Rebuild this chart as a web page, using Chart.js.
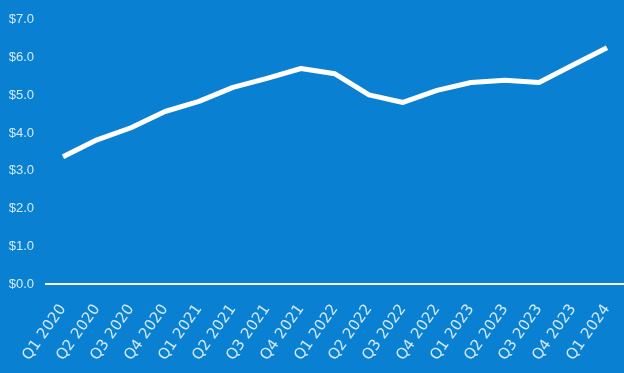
<!DOCTYPE html>
<html>
<head>
<meta charset="utf-8">
<script src="https://cdn.jsdelivr.net/npm/chart.js@4"></script>
<style>
  html, body { margin: 0; padding: 0; background: #0a80d3; }
  #wrap { width: 624px; height: 373px; position: relative; }
</style>
</head>
<body>
<div id="wrap"><canvas id="priceChart"></canvas></div>
<script>
// quarters on the x axis
const quarters = ['Q1 2020', 'Q2 2020', 'Q3 2020', 'Q4 2020', 'Q1 2021', 'Q2 2021', 'Q3 2021', 'Q4 2021',
  'Q1 2022', 'Q2 2022', 'Q3 2022', 'Q4 2022', 'Q1 2023', 'Q2 2023', 'Q3 2023', 'Q4 2023', 'Q1 2024'];
// values
const values = [3.37, 3.82, 4.14, 4.57, 4.84, 5.21, 5.45, 5.71, 5.57, 5.01, 4.81, 5.13, 5.34, 5.40, 5.34, 5.80, 6.26];
const yTicks = [0, 1, 2, 3, 4, 5, 6, 7];

const labelColor = '#d4eafa';

const ctx = document.getElementById('priceChart').getContext('2d');
const priceChart = new Chart(ctx, {
  type: 'line',
  data: {
    labels: quarters,
    datasets: [{
      data: values,
      borderColor: '#ffffff',
      borderWidth: 5,
      pointRadius: 0,
      tension: 0,
      borderCapStyle: 'butt',
      borderJoinStyle: 'round'
    }]
  },
  options: {
    responsive: true,
    maintainAspectRatio: false,
    animation: false,
    layout: { padding: { top: 17, right: 0, left: 0, bottom: 0 } },
    plugins: {
      legend: { display: false },
      tooltip: { enabled: false }
    },
    scales: {
      x: {
        offset: true,
        grid: { display: false, drawTicks: false },
        border: { display: true, color: '#ffffff', width: 2 },
        ticks: {
          color: labelColor,
          font: { family: 'DejaVu Sans', size: 15 },
          minRotation: 55,
          maxRotation: 55,
          padding: 17,
          autoSkip: false
        },
        afterFit: (axis) => {
          axis.height = 89;
          axis.paddingLeft = 0;
          axis.paddingRight = 0;
        }
      },
      y: {
        min: 0,
        max: 7,
        afterBuildTicks: (axis) => { axis.ticks = yTicks.map(v => ({ value: v })); },
        grid: { display: false, drawTicks: false },
        border: { display: false },
        ticks: {
          color: labelColor,
          font: { family: 'Liberation Sans', size: 13 },
          padding: 12,
          callback: (v) => '$' + v.toFixed(1)
        },
        afterFit: (axis) => { axis.width = 46; }
      }
    }
  }
});
</script>
</body>
</html>
